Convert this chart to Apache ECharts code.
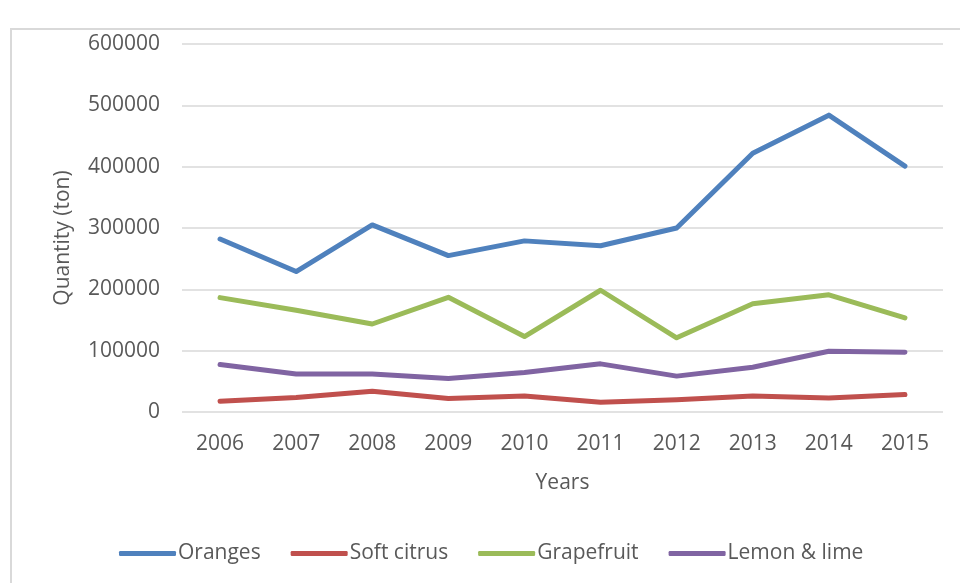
<!DOCTYPE html>
<html>
<head>
<meta charset="utf-8">
<script src="https://cdn.jsdelivr.net/npm/echarts@6/dist/echarts.min.js"></script>
<style>
  html, body { margin: 0; padding: 0; background: #ffffff; }
  #chart { width: 960px; height: 583px; }
</style>
</head>
<body>
<div id="chart"></div>
<script>
// Citrus production by year (tons)
const years = ['2006', '2007', '2008', '2009', '2010', '2011', '2012', '2013', '2014', '2015'];
const oranges    = [282000, 229000, 305000, 255000, 279000, 271000, 300000, 422000, 484000, 401000];
const softCitrus = [17500, 23500, 34000, 22000, 26000, 16000, 20000, 26000, 23000, 28500];
const grapefruit = [186500, 166000, 143500, 187000, 123000, 198500, 121000, 176500, 191000, 153500];
const lemonLime  = [77500, 62000, 62000, 54500, 64500, 78500, 58500, 73000, 99000, 97500];

const seriesNames = ['Oranges', 'Soft citrus', 'Grapefruit', 'Lemon & lime'];
const seriesData = [oranges, softCitrus, grapefruit, lemonLime];
const colors = ['#4F81BD', '#C0504D', '#9BBB59', '#8064A2'];

const textColor = '#595959';
const fontFamily = '"Open Sans", "Noto Sans", sans-serif';

const chart = echarts.init(document.getElementById('chart'), null, { renderer: 'canvas' });

chart.setOption({
  backgroundColor: '#ffffff',
  animation: false,
  color: colors,
  textStyle: { fontFamily: fontFamily, color: textColor },
  graphic: [{
    type: 'rect',
    shape: { x: 11, y: 29, width: 1000, height: 600 },
    style: { fill: 'none', stroke: '#d9d9d9', lineWidth: 2 },
    silent: true,
    z: -1
  }],
  grid: { left: 182, right: 17, top: 44, bottom: 171 },
  legend: {
    data: seriesNames,
    bottom: 14,
    left: 114,
    itemWidth: 57,
    itemHeight: 5,
    itemGap: 30,
    icon: 'roundRect',
    textStyle: { fontSize: 21, color: textColor, fontFamily: fontFamily, padding: [0, 0, 0, -3] }
  },
  xAxis: {
    type: 'category',
    data: years,
    boundaryGap: true,
    name: 'Years',
    nameLocation: 'middle',
    nameGap: 61,
    nameTextStyle: { fontSize: 21, color: textColor },
    axisLine: { show: false },
    axisTick: { show: false },
    axisLabel: { fontSize: 21, color: textColor, margin: 22 }
  },
  yAxis: {
    type: 'value',
    min: 0,
    max: 600000,
    interval: 100000,
    name: 'Quantity (ton)',
    nameLocation: 'middle',
    nameGap: 108,
    nameTextStyle: { fontSize: 21, color: textColor, padding: [0, 20, 0, 0] },
    axisLine: { show: false },
    axisTick: { show: false },
    axisLabel: { fontSize: 21, color: textColor, margin: 22, formatter: (v) => String(v) },
    splitLine: { lineStyle: { color: '#d9d9d9', width: 1.5 } }
  },
  series: seriesNames.map((name, i) => ({
    name: name,
    type: 'line',
    data: seriesData[i],
    symbol: 'none',
    smooth: false,
    lineStyle: { width: 5, cap: 'round', join: 'round', color: colors[i] }
  }))
});
</script>
</body>
</html>
